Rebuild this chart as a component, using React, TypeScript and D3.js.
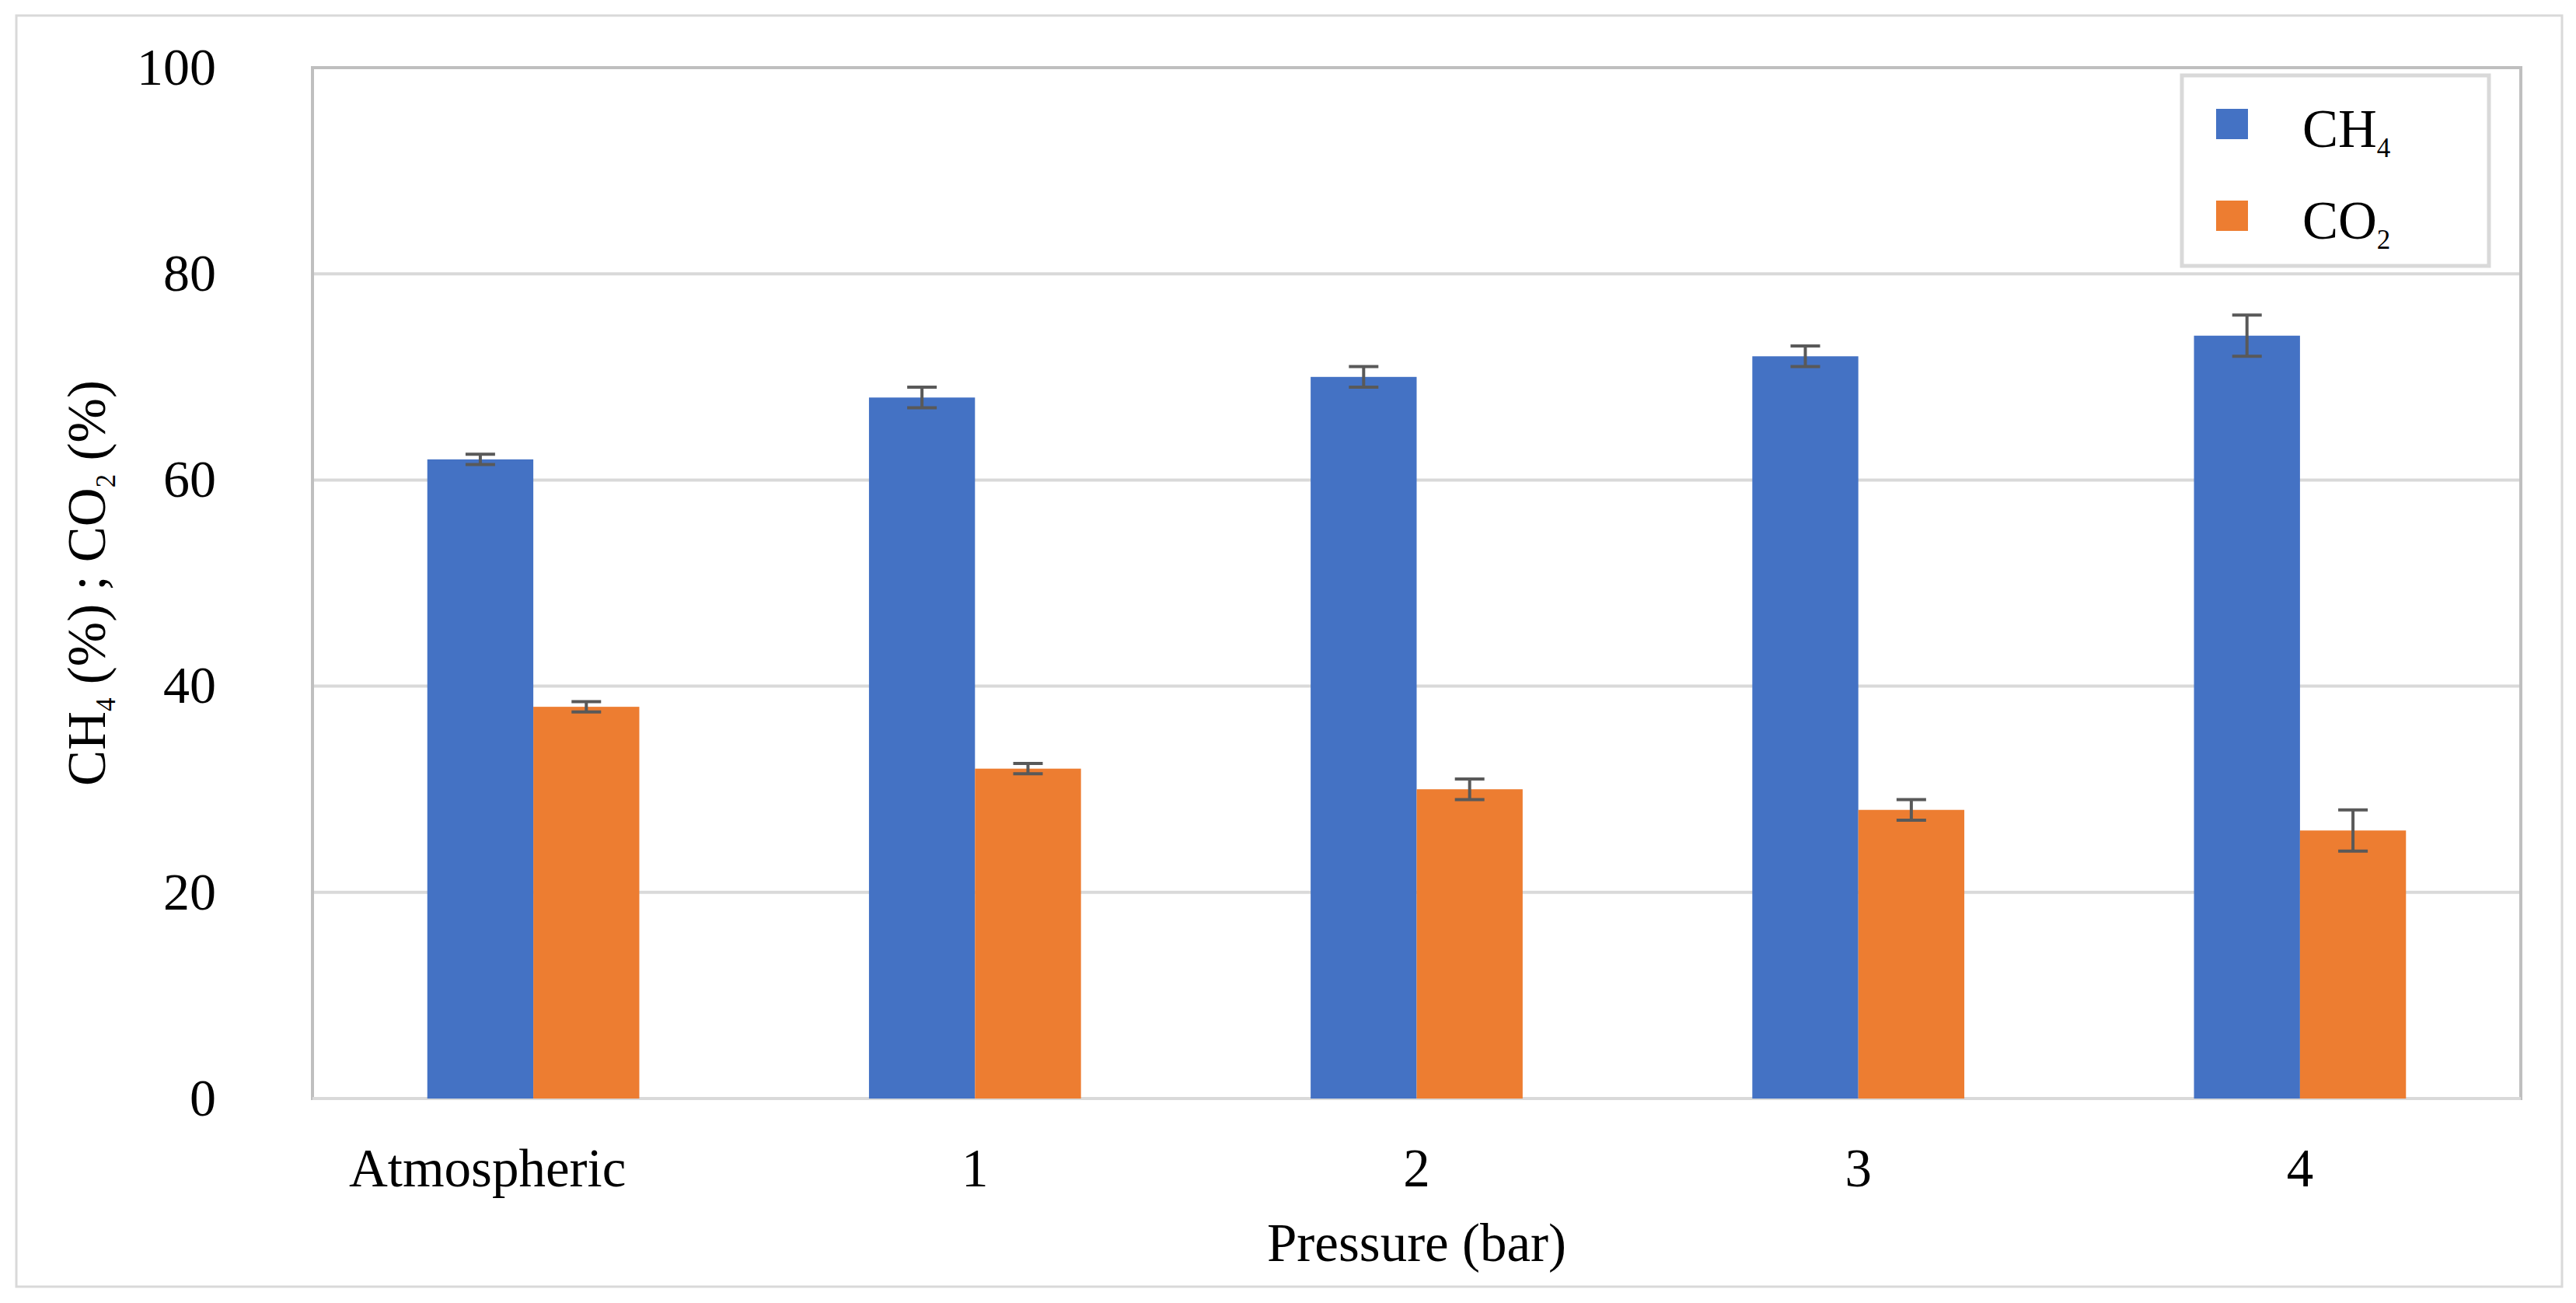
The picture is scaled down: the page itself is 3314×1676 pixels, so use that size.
import * as React from 'react';
import * as d3 from 'd3';

const categories = ['Atmospheric', '1', '2', '3', '4'];
const ch4 = [62, 68, 70, 72, 74];
const co2 = [38, 32, 30, 28, 26];
const ch4Err = [0.5, 1, 1, 1, 2];
const co2Err = [0.5, 0.5, 1, 1, 2];
const yTicks = [0, 20, 40, 60, 80, 100];
const seriesNames = ['CH4', 'CO2'];

const width = 3314;
const height = 1676;
const margin = {top: 87, right: 71, bottom: 263, left: 402};
const font = '"Liberation Serif", "Times New Roman", serif';
const colors = ['#4472C4', '#ED7D31'];

export default function App() {
  const x0 = d3.scaleBand<string>()
    .domain(categories)
    .range([margin.left, width - margin.right])
    .paddingInner(0.52)
    .paddingOuter(0.26);
  const x1 = d3.scaleBand<string>()
    .domain(seriesNames)
    .range([0, x0.bandwidth()]);
  const y = d3.scaleLinear()
    .domain([0, 100])
    .range([height - margin.bottom, margin.top]);

  const series = [
    {name: 'CH4', values: ch4, err: ch4Err, color: colors[0]},
    {name: 'CO2', values: co2, err: co2Err, color: colors[1]},
  ];

  const plotW = width - margin.left - margin.right;
  const plotH = height - margin.top - margin.bottom;
  const capW = 38;

  return (
    <svg width={width} height={height} style={{position: 'absolute', left: 0, top: 0, background: '#fff'}}
      fontFamily={font}>
      {/* outer frame */}
      <rect x={21} y={20} width={3275} height={1635} fill="#fff" stroke="#d9d9d9" strokeWidth={3}/>

      {/* gridlines */}
      {yTicks.map(t => (
        <line key={t} x1={margin.left} x2={width - margin.right} y1={y(t)} y2={y(t)}
          stroke="#d9d9d9" strokeWidth={4}/>
      ))}
      <rect x={margin.left} y={margin.top} width={plotW} height={plotH} fill="none"
        stroke="#bfbfbf" strokeWidth={4}/>
      <line x1={margin.left} x2={width - margin.right} y1={y(0)} y2={y(0)} stroke="#d9d9d9" strokeWidth={4}/>

      {/* bars */}
      {series.map(s => (
        <g key={s.name}>
          {categories.map((c, i) => (
            <rect key={c} x={x0(c)! + x1(s.name)!} y={y(s.values[i])}
              width={x1.bandwidth()} height={y(0) - y(s.values[i])} fill={s.color}/>
          ))}
        </g>
      ))}

      {/* error bars */}
      {series.map(s => (
        <g key={s.name + 'err'} stroke="#595959" strokeWidth={4}>
          {categories.map((c, i) => {
            const cx = x0(c)! + x1(s.name)! + x1.bandwidth() / 2;
            const hi = y(s.values[i] + s.err[i]);
            const lo = y(s.values[i] - s.err[i]);
            return (
              <g key={c}>
                <line x1={cx} x2={cx} y1={hi} y2={lo}/>
                <line x1={cx - capW / 2} x2={cx + capW / 2} y1={hi} y2={hi}/>
                <line x1={cx - capW / 2} x2={cx + capW / 2} y1={lo} y2={lo}/>
              </g>
            );
          })}
        </g>
      ))}

      {/* y tick labels */}
      {yTicks.map(t => (
        <text key={t} x={278} y={y(t)} dy="0.32em" textAnchor="end" fontSize={68} fill="#000">{t}</text>
      ))}

      {/* x tick labels */}
      {categories.map((c, i) => (
        <text key={c} x={x0(c)! + x0.bandwidth() / 2 + (i === 0 ? -59 : 0)} y={1526}
          textAnchor="middle" fontSize={69} fill="#000">{c}</text>
      ))}

      {/* axis titles */}
      <text x={margin.left + plotW / 2} y={1622} textAnchor="middle" fontSize={69} fill="#000">Pressure (bar)</text>
      <text transform={`translate(135,${margin.top + plotH / 2}) rotate(-90)`} textAnchor="middle"
        fontSize={69} fill="#000">
        CH<tspan dy={13} fontSize={35}>4</tspan><tspan dy={-13}> (%) ; CO</tspan>
        <tspan dy={13} fontSize={35}>2</tspan><tspan dy={-13}> (%)</tspan>
      </text>

      {/* legend */}
      <rect x={2807} y={97} width={395} height={245} fill="#fff" stroke="#d9d9d9" strokeWidth={5}/>
      {series.map((s, i) => (
        <g key={s.name + 'leg'} transform={`translate(0,${i * 118})`}>
          <rect x={2851} y={140} width={41} height={39} fill={s.color}/>
          <text x={2962} y={189} fontSize={69} fill="#000">
            {s.name.slice(0, 2)}<tspan dy={13} fontSize={35}>{s.name.slice(2)}</tspan>
          </text>
        </g>
      ))}
    </svg>
  );
}
